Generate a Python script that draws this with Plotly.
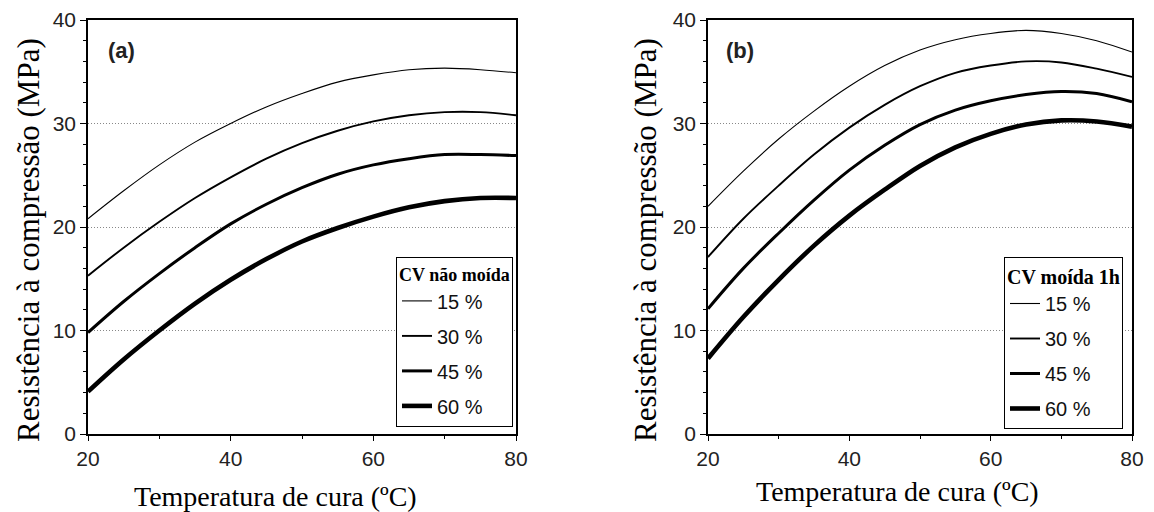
import plotly.graph_objects as go

temps = [20, 25, 30, 35, 40, 45, 50, 55, 60, 65, 70, 75, 80]
labels = ["15 %", "30 %", "45 %", "60 %"]
widths = [1.1, 1.9, 3.0, 4.6]

a_15 = [20.8, 23.5, 26.0, 28.2, 30.0, 31.6, 32.9, 34.0, 34.7, 35.2, 35.35, 35.2, 34.9]
a_30 = [15.3, 18.0, 20.5, 22.8, 24.8, 26.6, 28.1, 29.3, 30.2, 30.8, 31.1, 31.1, 30.8]
a_45 = [9.8, 12.8, 15.5, 18.0, 20.3, 22.2, 23.8, 25.1, 26.0, 26.6, 27.0, 27.0, 26.9]
a_60 = [4.1, 7.2, 10.0, 12.6, 14.9, 16.9, 18.6, 19.9, 21.0, 21.9, 22.5, 22.8, 22.8]

b_15 = [22.0, 25.4, 28.5, 31.2, 33.6, 35.6, 37.1, 38.1, 38.7, 39.0, 38.7, 38.0, 36.9]
b_30 = [17.1, 20.8, 24.0, 27.0, 29.6, 31.8, 33.6, 34.9, 35.6, 36.0, 35.9, 35.3, 34.5]
b_45 = [12.1, 16.0, 19.4, 22.6, 25.5, 27.9, 29.9, 31.3, 32.2, 32.8, 33.1, 32.9, 32.1]
b_60 = [7.3, 11.3, 14.9, 18.2, 21.1, 23.6, 25.9, 27.7, 29.0, 29.9, 30.3, 30.2, 29.7]

x_ticks = [20, 40, 60, 80]
y_ticks = [0, 10, 20, 30, 40]

fig = go.Figure()

panels = [
    ([a_15, a_30, a_45, a_60], "x", "y", "legend"),
    ([b_15, b_30, b_45, b_60], "x2", "y2", "legend2"),
]
for series, xa, ya, lg in panels:
    for i, (vals, lab, w) in enumerate(zip(series, labels, widths)):
        fig.add_trace(go.Scatter(
            x=temps, y=vals, mode="lines", name=lab,
            line=dict(color="black", width=w, shape="spline", smoothing=1.0),
            xaxis=xa, yaxis=ya, legend=lg, legendgroup=lg + str(i),
        ))

ydom = [(512 - 434) / 512, (512 - 20) / 512]
xdom1 = [88 / 1154, 516 / 1154]
xdom2 = [708 / 1154, 1132 / 1154]

tickfont = dict(family="Liberation Sans, Arial, sans-serif", size=21, color="#222")

def xaxis(dom, anchor):
    return dict(domain=dom, anchor=anchor, range=[20, 80], tickvals=x_ticks,
                ticks="outside", ticklen=5, tickcolor="black", tickfont=tickfont,
                showline=True, linecolor="black", linewidth=1.5, mirror=True,
                showgrid=False, zeroline=False, automargin=False,
                minor=dict(tickvals=[30, 50, 70], ticks="outside", ticklen=3, tickcolor="black"))

def yaxis(anchor):
    return dict(domain=ydom, anchor=anchor, range=[0, 40], tickvals=y_ticks,
                ticks="outside", ticklen=6, tickcolor="black", tickfont=tickfont,
                showline=True, linecolor="black", linewidth=1.5, mirror=True,
                showgrid=True, gridcolor="#888", griddash="1px,2px", gridwidth=1,
                zeroline=False, automargin=False,
                minor=dict(dtick=2, ticks="outside", ticklen=3, tickcolor="black", showgrid=False))

legfont = dict(family="Liberation Sans, Arial, sans-serif", size=20, color="#111")

def legend(x, title, tsize):
    return dict(x=x, y=(512 - 257) / 512, xanchor="left", yanchor="top",
                bgcolor="white", bordercolor="black", borderwidth=1,
                font=legfont,
                title=dict(text="<b>" + title + "</b>",
                           font=dict(family="Liberation Serif, Times New Roman, serif",
                                     size=tsize, color="black")),
                tracegroupgap=6, itemwidth=30)

fig.update_layout(
    width=1154, height=512,
    margin=dict(l=0, r=0, t=0, b=0, autoexpand=False),
    paper_bgcolor="white", plot_bgcolor="white",
    xaxis=xaxis(xdom1, "y"), yaxis=yaxis("x"),
    xaxis2=xaxis(xdom2, "y2"), yaxis2=yaxis("x2"),
    legend=legend(396 / 1154, "CV não moída", 18),
    legend2=legend(1004 / 1154, "CV moída 1h", 20),
    showlegend=True,
)

serif = "Liberation Serif, Times New Roman, serif"
ann = [
    dict(text="Resistência à compressão (MPa)", x=28 / 1154, y=(512 - 240) / 512, textangle=-90, size=31),
    dict(text="Resistência à compressão (MPa)", x=645 / 1154, y=(512 - 240) / 512, textangle=-90, size=31),
    dict(text="Temperatura de cura (ºC)", x=275 / 1154, y=(512 - 496) / 512, textangle=0, size=28),
    dict(text="Temperatura de cura (ºC)", x=897 / 1154, y=(512 - 491) / 512, textangle=0, size=28),
]
for a in ann:
    fig.add_annotation(xref="paper", yref="paper", showarrow=False,
                       xanchor="center", yanchor="middle", text=a["text"],
                       x=a["x"], y=a["y"], textangle=a["textangle"],
                       font=dict(family=serif, size=a["size"], color="black"))

for lab, px in [("(a)", 121), ("(b)", 740)]:
    fig.add_annotation(text="<b>" + lab + "</b>", xref="paper", yref="paper",
                       x=px / 1154, y=(512 - 50) / 512, showarrow=False,
                       xanchor="center", yanchor="middle",
                       font=dict(family="Liberation Sans, Arial, sans-serif", size=22, color="#222"))

fig.write_html("out.html")
